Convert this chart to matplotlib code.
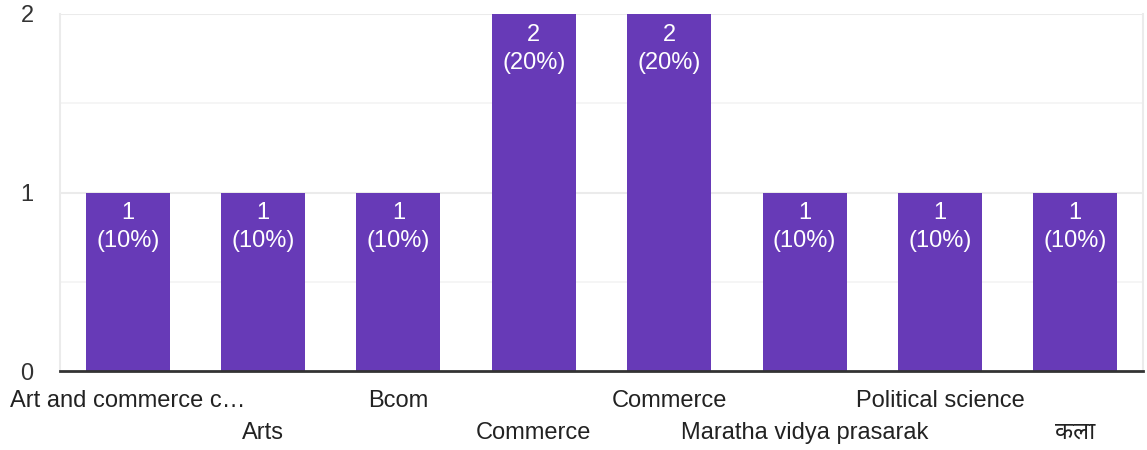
import matplotlib
matplotlib.use("Agg")
import matplotlib.pyplot as plt

categories = ["Art and commerce c…", "Arts", "Bcom", "Commerce", "Commerce",
              "Maratha vidya prasarak", "Political science", "कला"]
values = [1, 1, 1, 2, 2, 1, 1, 1]
percents = ["10%", "10%", "10%", "20%", "20%", "10%", "10%", "10%"]
yticks = [0, 1, 2]

FAM = ['Liberation Sans', 'Noto Sans', 'DejaVu Sans']
plt.rcParams['font.family'] = FAM
FS = 17

fig = plt.figure(figsize=(11.47, 4.5), dpi=100)
ax = fig.add_axes([60/1147, 79/450, 1083/1147, 357/450])

x = list(range(len(categories)))
bars = ax.bar(x, values, width=0.62, color="#673ab7", zorder=3)

ax.set_xlim(-0.5, len(categories) - 0.5)
ax.set_ylim(0, 2)

for yv in [0.5, 1.5]:
    ax.axhline(yv, color="#f4f4f4", lw=1.2, zorder=1)
for yv in [1, 2]:
    ax.axhline(yv, color="#ebebeb", lw=1.5, zorder=1)

for xi, v, p in zip(x, values, percents):
    ax.annotate(f"{v}\n({p})", xy=(xi, v), xytext=(0, -7), textcoords="offset points",
                ha="center", va="top", color="white", fontsize=FS, linespacing=1.36, zorder=4)

ax.set_yticks(yticks)
ax.set_yticklabels([str(t) for t in yticks], fontsize=FS, color="#333333")
ax.tick_params(axis="y", length=0, pad=19)
ax.set_xticks([])

for i, (xi, lab) in enumerate(zip(x, categories)):
    yoff = -21.6 if i % 2 == 0 else -44.6
    ax.annotate(lab, xy=(xi, 0), xytext=(0, yoff), textcoords="offset points",
                ha="center", va="center", fontsize=FS, color="#222222", family=FAM)

for s in ["left", "right"]:
    ax.spines[s].set_color("#ebebeb")
    ax.spines[s].set_linewidth(1.5)
ax.spines["top"].set_visible(False)
ax.spines["bottom"].set_color("#333333")
ax.spines["bottom"].set_linewidth(2)
ax.spines["bottom"].set_zorder(5)

fig.savefig("out.png", dpi=100)
